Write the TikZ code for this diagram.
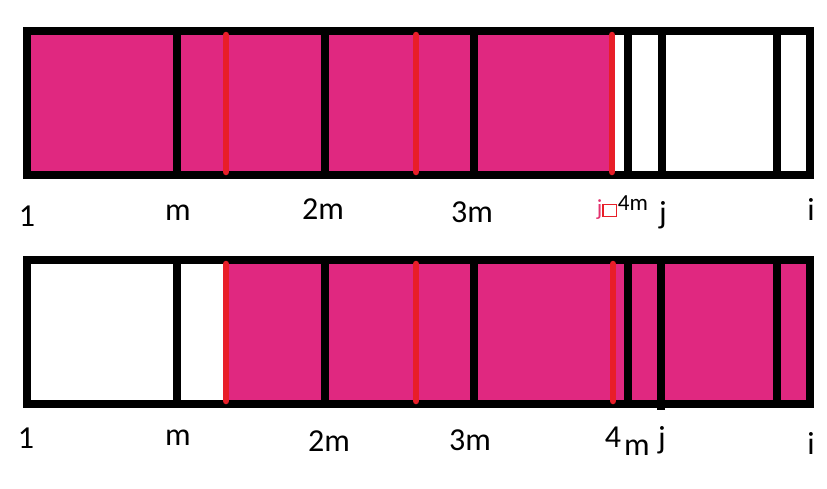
\documentclass[tikz,border=0pt]{standalone}
\usepackage{fontspec}
\setmainfont{Carlito}
\usepackage{tikz}
\definecolor{blockpink}{RGB}{224,40,128}
\definecolor{cutred}{RGB}{232,30,40}
\definecolor{jpink}{RGB}{226,50,110}

\begin{document}
\begin{tikzpicture}[
    x=1pt, y=-1pt,
    frame/.style={draw=black, line width=8.5pt},
    divider/.style={draw=black, line width=7.5pt},
    cut/.style={draw=cutred, line width=6.5pt, line cap=round},
    fillpink/.style={fill=blockpink},
    lbl/.style={inner sep=0pt, font=\fontsize{32}{36}\selectfont},
    small/.style={inner sep=0pt, font=\fontsize{23}{26}\selectfont}
]
    \useasboundingbox (0,0) rectangle (827,488);

    % top bar
    \fill[fillpink] (27,31) rectangle (612,175);
    \foreach \xd in {177,325,474,628,662,777}
        \draw[divider] (\xd,31) -- (\xd,175);
    \draw[frame] (27,31) rectangle (810,175);
    \foreach \xc in {226,416,612}
        \draw[cut] (\xc,35) -- (\xc,172);

    % bottom bar
    \fill[fillpink] (226,260) rectangle (810,404);
    \foreach \xd in {177,325,474,628,777}
        \draw[divider] (\xd,260) -- (\xd,404);
    \draw[divider] (661,260) -- (661,410);
    \draw[frame] (27,260) rectangle (810,404);
    \foreach \xc in {226,416,613}
        \draw[cut] (\xc,264) -- (\xc,401);

    % top labels
    \node[lbl] (t1) at (27,216) {1};
    \node[lbl] (tm) at (178,213) {m};
    \node[lbl] (t2m) at (323,209) {2m};
    \node[lbl] (t3m) at (472,212) {3m};
    \node[small, text=jpink] (tj0) at (607,210) {j{\color{cutred}\setlength{\fboxsep}{0pt}\setlength{\fboxrule}{1.2pt}\fbox{\phantom{o}}}};
    \node[small] (t4m) at (633,203) {4m};
    \node[lbl] (tj) at (663,215) {j};
    \node[lbl] (ti) at (811,209) {i};

    % bottom labels
    \node[lbl] (b1) at (26,438) {1};
    \node[lbl] (bm) at (178,438) {m};
    \node[lbl] (b2m) at (329,441) {2m};
    \node[lbl] (b3m) at (470,440) {3m};
    \node[lbl] (b4) at (613,437) {4};
    \node[lbl] (bsm) at (637,448) {m};
    \node[lbl] (bj) at (662,440) {j};
    \node[lbl] (bi) at (811,443) {i};
\end{tikzpicture}
\end{document}
